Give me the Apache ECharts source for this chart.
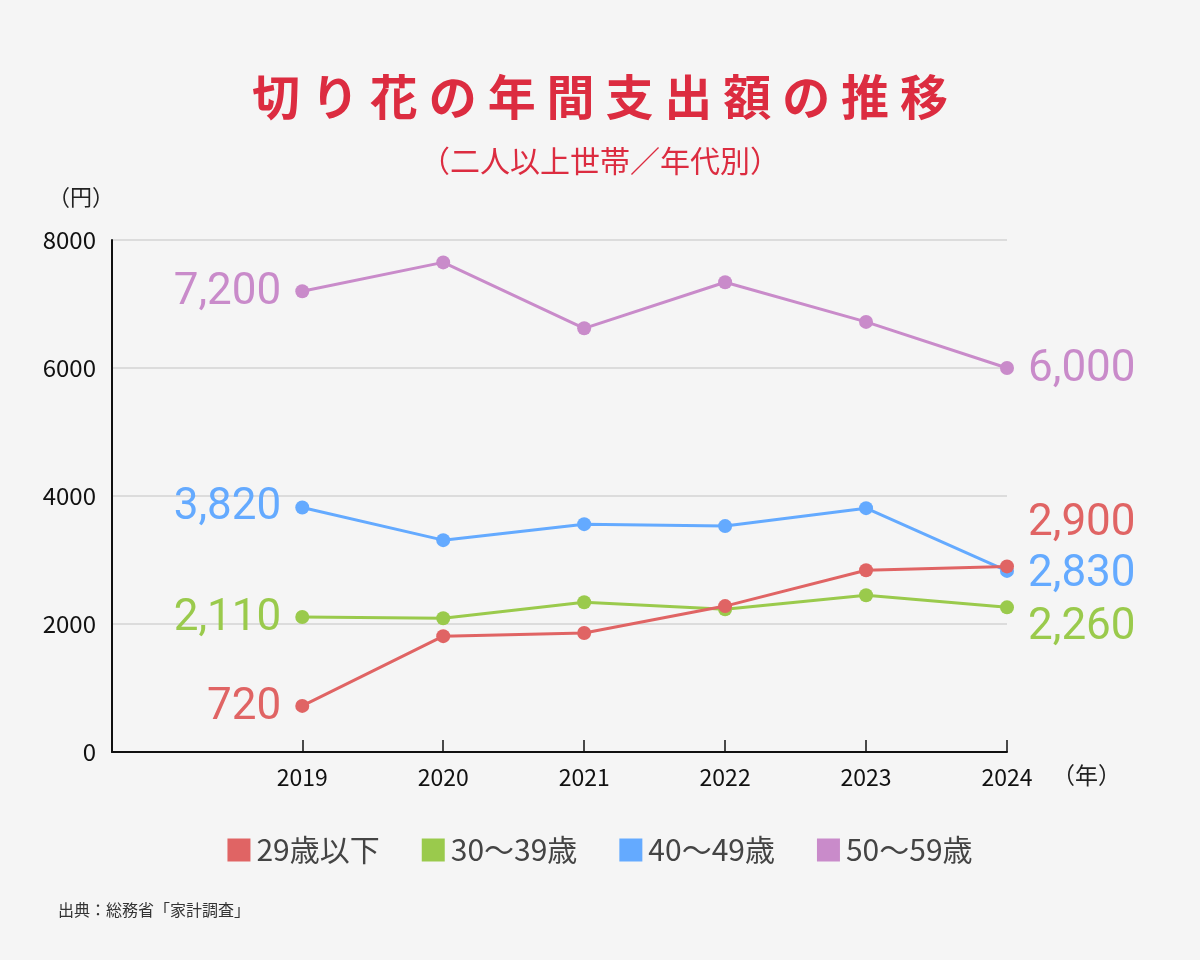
<!DOCTYPE html>
<html>
<head>
<meta charset="utf-8">
<script src="https://cdn.jsdelivr.net/npm/echarts@6/dist/echarts.min.js"></script>
<style>
  html, body { margin: 0; padding: 0; background: #f5f5f5; }
  #chart { width: 1200px; height: 960px; }
</style>
</head>
<body>
<div id="chart"></div>
<script>
const years = [2019, 2020, 2021, 2022, 2023, 2024]
const seriesNames = ['29歳以下', '30～39歳', '40～49歳', '50～59歳']
const under29 = [720, 1810, 1860, 2280, 2840, 2900]
const age30s = [2110, 2090, 2340, 2230, 2450, 2260]
const age40s = [3820, 3310, 3560, 3530, 3810, 2830]
const age50s = [7200, 7650, 6620, 7340, 6720, 6000]
const yTicks = [0, 2000, 4000, 6000, 8000]

const colors = ['#e06464', '#9aca4c', '#64aaff', '#c98bca']
const cjk = '"Noto Sans CJK JP", "Noto Sans", sans-serif'
const numFont = 'Roboto, sans-serif'

// label offsets for the end values (left side / right side)
const leftOffsets = [[0, 2], [0, 2], [0, 0], [0, 2]]
const rightOffsets = [[0, -42], [0, 21], [0, 4], [0, 2]]

const fmt = v => v.toLocaleString('en-US')

function buildData(values, idx) {
  return values.map((v, i) => {
    const item = { value: [years[i], v] }
    if (i === 0 || i === values.length - 1) {
      const first = i === 0
      item.label = {
        show: true,
        position: first ? 'left' : 'right',
        distance: 14,
        offset: first ? leftOffsets[idx] : rightOffsets[idx],
        formatter: p => fmt(p.value[1]),
        color: colors[idx],
        fontFamily: numFont,
        fontSize: 44,
        fontWeight: 400
      }
    }
    return item
  })
}

const chart = echarts.init(document.getElementById('chart'))
chart.setOption({
  backgroundColor: '#f5f5f5',
  animation: false,
  title: [
    {
      text: '切 り 花 の 年 間 支 出 額 の 推 移',
      left: 'center',
      top: 68,
      textStyle: { color: '#dc2c40', fontSize: 48, fontWeight: 'bold', fontFamily: cjk }
    },
    {
      text: '（二人以上世帯／年代別）',
      left: 'center',
      top: 141,
      textStyle: { color: '#dc2c40', fontSize: 30, fontWeight: 'normal', fontFamily: cjk }
    }
  ],
  graphic: [
    { type: 'text', left: 48, top: 186, style: { text: '（円）', fill: '#222', font: '22px ' + cjk } },
    { type: 'text', left: 1052, top: 764, style: { text: '（年）', fill: '#222', font: '23px ' + cjk } },
    { type: 'text', left: 58, top: 902, style: { text: '出典：総務省「家計調査」', fill: '#333', font: '16px ' + cjk } }
  ],
  legend: {
    top: 830,
    left: 'center',
    itemWidth: 23,
    itemHeight: 23,
    itemGap: 42,
    icon: 'rect',
    textStyle: { color: '#444', fontSize: 30, fontFamily: cjk, padding: [0, 0, 0, 1] },
    data: seriesNames
  },
  grid: { left: 112, right: 193, top: 240, bottom: 208 },
  xAxis: {
    type: 'value',
    min: 2017.65,
    max: 2024,
    splitLine: { show: false },
    axisLine: { lineStyle: { color: '#111', width: 2 } },
    axisTick: { inside: true, length: 12, customValues: years, lineStyle: { color: '#111', width: 1.5 } },
    axisLabel: { customValues: years, formatter: v => String(v), color: '#111', fontSize: 23, fontFamily: cjk, margin: 14 }
  },
  yAxis: {
    type: 'value',
    min: 0,
    max: 8000,
    interval: 2000,
    axisLine: { show: true, lineStyle: { color: '#111', width: 2 } },
    axisTick: { show: false },
    splitLine: { lineStyle: { color: '#dcdcdc', width: 2 } },
    axisLabel: { color: '#111', fontSize: 24, fontFamily: cjk, margin: 16, customValues: yTicks, formatter: v => String(v) }
  },
  series: [under29, age30s, age40s, age50s].map((vals, idx) => ({
    name: seriesNames[idx],
    type: 'line',
    data: buildData(vals, idx),
    color: colors[idx],
    symbol: 'circle',
    symbolSize: 14,
    lineStyle: { width: 3, color: colors[idx] },
    itemStyle: { color: colors[idx] },
    z: 10 - idx
  }))
})
</script>
</body>
</html>
